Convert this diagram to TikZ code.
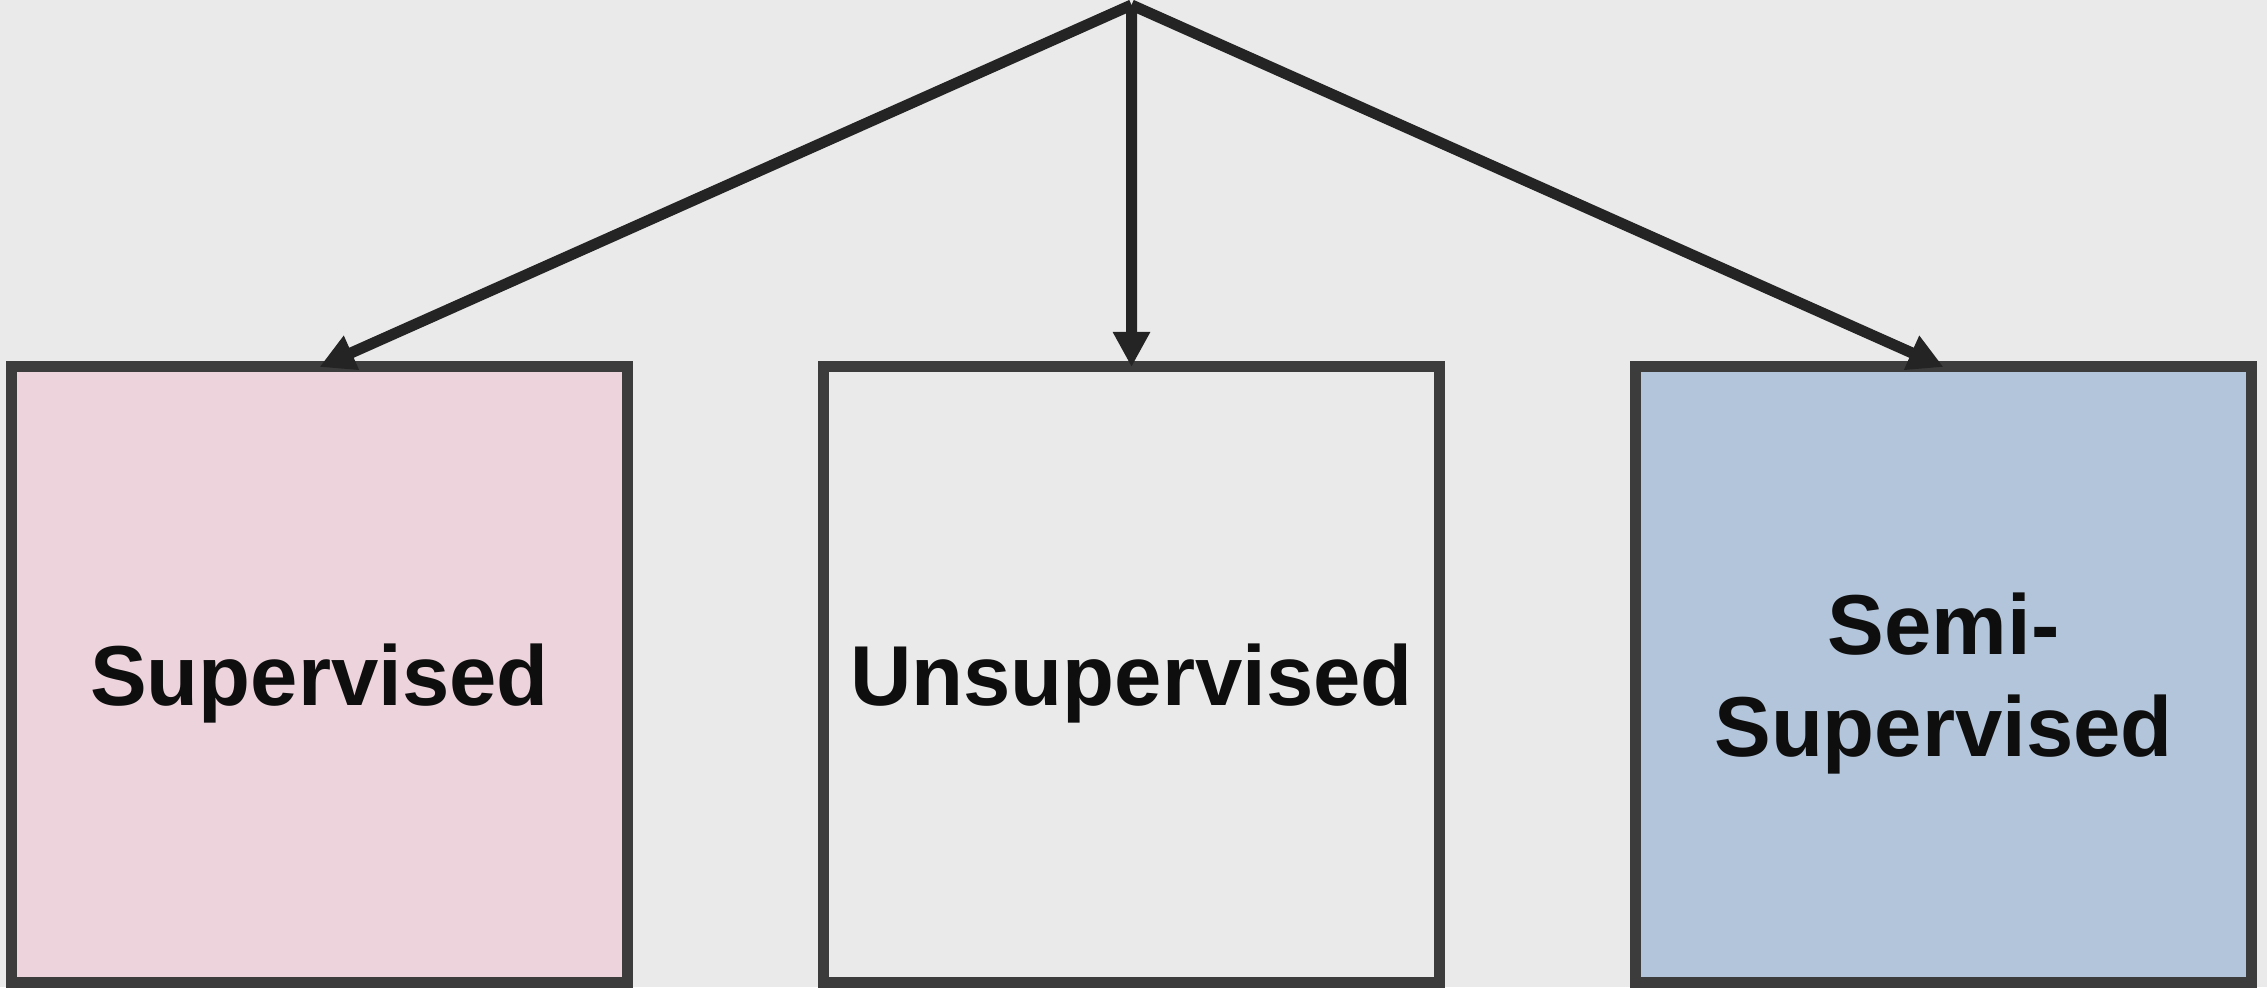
\documentclass[tikz,border=0pt]{standalone}
\usepackage{fontspec}
\setmainfont{Liberation Sans}
\usepackage{xcolor}
\definecolor{canvas}{HTML}{EAEAEA}
\definecolor{boxline}{HTML}{3C3C3C}
\definecolor{arrowline}{HTML}{242424}
\definecolor{labeltext}{HTML}{0E0E0E}
\definecolor{supfill}{HTML}{ECD3DC}
\definecolor{semifill}{HTML}{B3C5DA}
\usetikzlibrary{arrows.meta, positioning}

\begin{document}
\begin{tikzpicture}[
        node distance=1.96cm,
        font=\fontsize{24.2pt}{29pt}\selectfont\bfseries,
        type_node/.style={
            rectangle,
            draw=boxline,
            line width=0.11cm,
            fill=canvas,
            align=center,
            text=labeltext,
            text depth=0pt,
            outer sep=0pt,
            minimum width=6.16cm,
            minimum height=6.155cm
        },
        arrow/.style={
            -{Triangle[length=0.35cm, width=0.35cm]},
            draw=arrowline,
            line width=0.11cm
        }
    ]

    % Canvas
    \fill[canvas] (0,0) rectangle (22.67,9.87);
    \useasboundingbox (0,0) rectangle (22.67,9.87);

    % Supervised (Left)
    \node[type_node, fill=supfill] (sup) at (3.195,3.1225) {Supervised};

    % Unsupervised (Center)
    \node[type_node, right=of sup] (unsup) {Unsupervised};

    % Semi-Supervised (Right)
    \node[type_node, fill=semifill, right=of unsup] (semi) {Semi-\\Supervised};

    % Common origin of the arrows (Top)
    \coordinate (root) at (11.315,9.82);

    % Arrows
    \draw[arrow] (root) -- (sup.north);
    \draw[arrow] (root) -- (unsup.north);
    \draw[arrow] (root) -- (semi.north);

    \end{tikzpicture}
\end{document}
